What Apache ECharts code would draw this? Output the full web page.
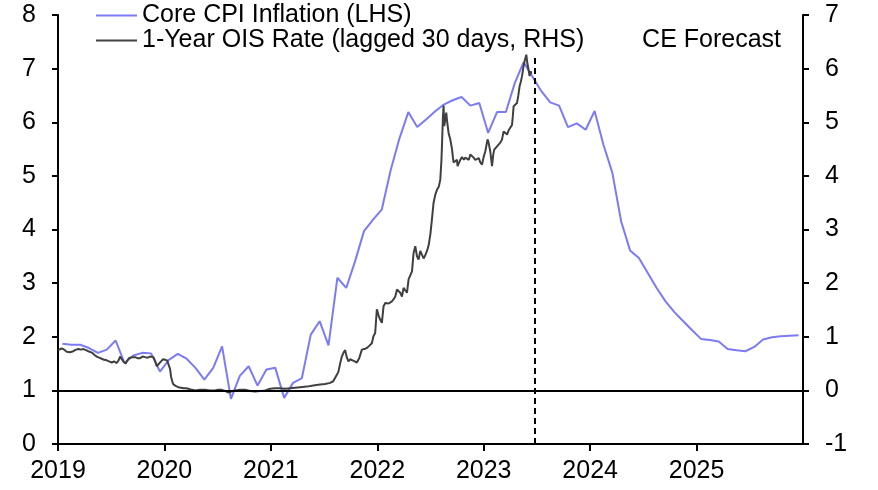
<!DOCTYPE html>
<html>
<head>
<meta charset="utf-8">
<script src="https://cdn.jsdelivr.net/npm/echarts@6/dist/echarts.min.js"></script>
<style>
html,body{margin:0;padding:0;background:#fff;}
#chart{width:878px;height:490px;}
</style>
</head>
<body>
<div id="chart"></div>
<script>
// Core CPI inflation (LHS), monthly 2019-01 .. 2025-12
var cpiMonths = [];
(function(){ for (var y = 2019; y <= 2025; y++) for (var m = 1; m <= 12; m++) cpiMonths.push(y + '-' + (m < 10 ? '0' + m : m)); })();
var cpiValues = [
  1.87,1.85,1.85,1.79,1.70,1.76,1.93,1.51,1.65,1.70,1.69,1.35,
  1.57,1.68,1.59,1.42,1.20,1.42,1.82,0.84,1.27,1.45,1.09,1.39,
  1.42,0.86,1.14,1.23,2.04,2.29,1.84,3.10,2.91,3.41,3.97,4.18,
  4.37,5.10,5.70,6.19,5.91,6.05,6.20,6.33,6.41,6.47,6.31,6.36,
  5.80,6.19,6.19,6.73,7.12,6.85,6.58,6.37,6.31,5.91,5.98,5.86,
  6.21,5.58,5.06,4.15,3.61,3.47,3.19,2.91,2.66,2.46,2.29,2.12,
  1.96,1.94,1.91,1.77,1.75,1.73,1.81,1.95,1.99,2.01,2.02,2.03
];

// 1-Year OIS rate (lagged 30 days, RHS): dates as decimal years
var oisDates = [
  2019.003,2019.028,2019.050,2019.082,2019.094,2019.113,2019.144,2019.169,2019.191,2019.216,
  2019.238,2019.263,2019.285,2019.301,2019.323,2019.343,2019.364,2019.386,2019.411,2019.433,
  2019.458,2019.480,2019.505,2019.527,2019.552,2019.569,2019.583,2019.597,2019.614,2019.637,
  2019.649,2019.668,2019.696,2019.724,2019.748,2019.771,2019.795,2019.818,2019.842,2019.865,
  2019.896,2019.912,2019.928,2019.945,2019.968,2019.987,2020.006,2020.025,2020.037,2020.053,
  2020.062,2020.075,2020.084,2020.109,2020.131,2020.156,2020.178,2020.204,2020.225,2020.260,
  2020.288,2020.335,2020.382,2020.429,2020.476,2020.504,2020.539,2020.570,2020.601,2020.627,
  2020.664,2020.711,2020.758,2020.805,2020.852,2020.899,2020.946,2020.993,2021.040,2021.087,
  2021.134,2021.181,2021.228,2021.275,2021.338,2021.398,2021.463,2021.510,2021.557,2021.586,
  2021.604,2021.620,2021.635,2021.651,2021.667,2021.682,2021.698,2021.713,2021.729,2021.745,
  2021.761,2021.778,2021.808,2021.830,2021.855,2021.877,2021.902,2021.924,2021.949,2021.964,
  2021.980,2021.996,2022.012,2022.027,2022.043,2022.059,2022.075,2022.090,2022.107,2022.137,
  2022.154,2022.169,2022.185,2022.200,2022.216,2022.232,2022.247,2022.263,2022.279,2022.294,
  2022.310,2022.326,2022.341,2022.357,2022.373,2022.388,2022.404,2022.420,2022.435,2022.451,
  2022.467,2022.482,2022.498,2022.514,2022.529,2022.545,2022.561,2022.578,2022.592,2022.603,
  2022.610,2022.617,2022.623,2022.629,2022.639,2022.648,2022.657,2022.670,2022.686,2022.702,
  2022.711,2022.717,2022.733,2022.749,2022.754,2022.780,2022.796,2022.813,2022.827,2022.843,
  2022.860,2022.874,2022.890,2022.905,2022.921,2022.937,2022.954,2022.968,2022.984,2022.999,
  2023.015,2023.036,2023.046,2023.062,2023.078,2023.090,2023.099,2023.109,2023.125,2023.140,
  2023.156,2023.172,2023.187,2023.203,2023.219,2023.234,2023.250,2023.266,2023.273,2023.281,
  2023.297,2023.313,2023.325,2023.337,2023.348,2023.360,2023.372,2023.384,2023.393,2023.400,
  2023.410,2023.416,2023.424,2023.431,2023.442,2023.447
];
var oisValues = [
  0.75,0.78,0.77,0.72,0.70,0.71,0.73,0.76,0.77,0.76,
  0.77,0.75,0.73,0.72,0.70,0.66,0.63,0.61,0.59,0.57,
  0.56,0.54,0.52,0.54,0.51,0.56,0.63,0.60,0.54,0.50,
  0.55,0.60,0.62,0.62,0.60,0.60,0.63,0.62,0.61,0.63,
  0.62,0.55,0.45,0.47,0.54,0.58,0.57,0.56,0.54,0.40,
  0.26,0.16,0.11,0.08,0.06,0.05,0.04,0.04,0.03,0.01,
  0.00,0.01,0.01,0.00,0.00,0.01,0.01,-0.01,-0.04,-0.02,
  0.00,0.01,0.01,-0.01,-0.02,-0.01,0.00,0.03,0.04,0.04,
  0.03,0.04,0.05,0.06,0.07,0.09,0.11,0.12,0.14,0.17,
  0.20,0.29,0.35,0.50,0.63,0.70,0.75,0.62,0.54,0.58,
  0.57,0.55,0.52,0.60,0.76,0.77,0.79,0.83,0.88,1.01,
  1.07,1.51,1.40,1.32,1.26,1.57,1.63,1.60,1.62,1.66,
  1.70,1.75,1.88,1.85,1.82,1.75,1.91,1.94,1.82,2.07,
  2.07,2.22,2.56,2.69,2.50,2.44,2.60,2.59,2.46,2.52,
  2.60,2.70,2.90,3.20,3.50,3.65,3.74,3.80,3.93,4.30,
  4.70,5.10,5.31,4.93,5.05,5.18,5.00,4.80,4.68,4.50,
  4.34,4.25,4.24,4.30,4.18,4.30,4.35,4.30,4.34,4.35,
  4.30,4.40,4.42,4.34,4.30,4.27,4.33,4.25,4.21,4.35,
  4.46,4.68,4.62,4.45,4.18,4.40,4.49,4.52,4.55,4.56,
  4.62,4.68,4.83,4.80,4.77,4.85,4.84,4.95,5.10,5.30,
  5.33,5.36,5.50,5.67,5.75,5.86,6.02,6.14,6.20,6.26,
  6.10,6.04,5.95,5.86,5.95,5.90
];

var forecastStart = 2023.475;
var xTicks = [2019, 2020, 2021, 2022, 2023, 2024, 2025];
var seriesNames = ['Core CPI Inflation (LHS)', '1-Year OIS Rate (lagged 30 days, RHS)'];

function monthToDec(s) {
  var p = s.split('-');
  return +p[0] + (+p[1] - 0.5) / 12;
}

var FONT = "'Liberation Sans', Arial, sans-serif";
var FS = 25;
var chart = echarts.init(document.getElementById('chart'), null, {renderer: 'canvas'});

var yAxisCommon = {
  type: 'value',
  interval: 1,
  splitLine: {show: false},
  axisLine: {show: true, lineStyle: {color: '#000', width: 2}},
  axisTick: {show: true, inside: false, length: 6, lineStyle: {color: '#000', width: 2}},
  axisLabel: {color: '#000', fontSize: FS, fontFamily: FONT, margin: 22}
};

chart.setOption({
  animation: false,
  backgroundColor: '#fff',
  grid: {left: 58, right: 75, top: 15, bottom: 46, containLabel: false},
  legend: {
    data: seriesNames,
    orient: 'vertical',
    left: 96,
    top: 3,
    padding: 0,
    itemGap: 0,
    itemWidth: 41,
    itemHeight: 2,
    icon: 'rect',
    selectedMode: false,
    textStyle: {color: '#000', fontSize: FS, fontFamily: FONT, lineHeight: 25}
  },
  xAxis: {
    type: 'value',
    min: 2019,
    max: 2026,
    interval: 1,
    splitLine: {show: false},
    axisLine: {onZero: false, lineStyle: {color: '#000', width: 2}},
    axisTick: {inside: false, length: 7, lineStyle: {color: '#000', width: 2}},
    axisLabel: {
      color: '#000', fontSize: FS, fontFamily: FONT, margin: 15,
      showMaxLabel: false,
      formatter: function (v) { return xTicks.indexOf(v) >= 0 ? String(v) : ''; }
    }
  },
  yAxis: [
    Object.assign({}, yAxisCommon, {position: 'left', min: 0, max: 8}),
    Object.assign({}, yAxisCommon, {position: 'right', min: -1, max: 7})
  ],
  graphic: [{
    type: 'text',
    right: 97,
    top: 28,
    style: {text: 'CE Forecast', fill: '#000', font: FS + 'px ' + FONT}
  }],
  series: [
    {
      name: seriesNames[0],
      type: 'line',
      yAxisIndex: 0,
      showSymbol: false,
      symbol: 'none',
      lineStyle: {color: '#7b7bf7', width: 2},
      itemStyle: {color: '#7b7bf7'},
      data: cpiMonths.map(function (m, i) { return [monthToDec(m), cpiValues[i]]; }),
      markLine: {
        silent: true,
        symbol: 'none',
        label: {show: false},
        lineStyle: {color: '#000', width: 2, type: [6, 4]},
        data: [[{coord: [forecastStart, 0]}, {coord: [forecastStart, 7.25]}]]
      },
      z: 2
    },
    {
      name: seriesNames[1],
      type: 'line',
      yAxisIndex: 1,
      showSymbol: false,
      symbol: 'none',
      lineStyle: {color: '#404040', width: 2},
      itemStyle: {color: '#404040'},
      data: oisDates.map(function (d, i) { return [d, oisValues[i]]; }),
      markLine: {
        silent: true,
        symbol: 'none',
        label: {show: false},
        lineStyle: {color: '#000', width: 2, type: 'solid'},
        data: [{yAxis: 0}]
      },
      z: 3
    }
  ]
});
</script>
</body>
</html>
